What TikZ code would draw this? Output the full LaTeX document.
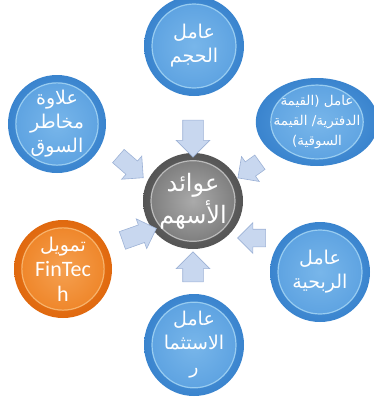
\documentclass[tikz,border=0pt]{standalone}
\usepackage{fontspec}
\usetikzlibrary{shapes.geometric,shapes.arrows}
\TeXXeTstate=1
\newfontfamily\arabicfont[Script=Arabic]{DejaVu Sans}
\newfontfamily\latinfont{Carlito}
\definecolor{blueout}{HTML}{3A84CE}
\definecolor{bluemid}{HTML}{5AA0E0}
\definecolor{bluein}{HTML}{78B6EA}
\definecolor{bluering}{HTML}{B0DEF8}
\definecolor{grayout}{HTML}{555555}
\definecolor{graymid}{HTML}{777777}
\definecolor{grayin}{HTML}{AAAAAA}
\definecolor{grayring}{HTML}{D5D5D5}
\definecolor{orangeout}{HTML}{E0690F}
\definecolor{orangemid}{HTML}{EE8224}
\definecolor{orangein}{HTML}{F5A050}
\definecolor{orangering}{HTML}{FBC585}
\definecolor{arrowfill}{HTML}{C8D7EF}
\definecolor{arrowline}{HTML}{9DB2D6}
\begin{document}
\begin{tikzpicture}[x=1pt,y=-1pt,
  bubble/.style n args={3}{ellipse, minimum width=#1, minimum height=#2,
    inner sep=0pt, outer sep=0pt, text=white, align=center,
    inner color=#3mid, outer color=#3out,
    path picture={
      \shade[inner color=#3in, outer color=#3mid]
        (path picture bounding box.center) ellipse [x radius=0.42*#1, y radius=0.42*#2];
      \draw[#3ring, line width=1.2pt, opacity=0.75]
        (path picture bounding box.center) ellipse [x radius=0.42*#1, y radius=0.42*#2];
    }},
  blockarrow/.style n args={2}{single arrow, draw=arrowline, fill=arrowfill,
    line width=0.6pt, inner sep=0pt, outer sep=0pt,
    text height=#2, text depth=0pt, text width=0pt,
    single arrow head extend=6.5pt, single arrow head indent=0pt,
    minimum height=#1},
  ar/.style={font=\arabicfont\fontsize{19}{24}\selectfont},
]
\useasboundingbox (0,0) rectangle (374,400);

\node[bubble={100pt}{100pt}{blue}, ar] (t) at (194,46)
  {\beginR عامل\endR\\\beginR الحجم\endR};
\node[bubble={110pt}{88pt}{blue}, font=\arabicfont\fontsize{13.5}{20}\selectfont] (tr) at (317,122)
  {\beginR عامل (القيمة\endR\\\beginR الدفترية/ القيمة\endR\\\beginR السوقية)\endR};
\node[bubble={98pt}{98pt}{blue}, ar] (tl) at (57,124)
  {\beginR علاوة\endR\\\beginR مخاطر\endR\\\beginR السوق\endR};
\node[bubble={98pt}{98pt}{orange}, font=\fontsize{19}{25}\selectfont] (bl) at (63,269)
  {{\arabicfont\beginR تمويل\endR}\\{\latinfont\fontsize{22}{25}\selectfont FinTec}\\{\latinfont\fontsize{22}{25}\selectfont h}};
\node[bubble={100pt}{100pt}{blue}, ar] (br) at (320,272)
  {\beginR عامل\endR\\\beginR الربحية\endR};
\node[bubble={100pt}{102pt}{blue}, ar] (b) at (194,345)
  {\beginR عامل\endR\\\beginR الاستثما\endR\\\beginR ر\endR};
\node[bubble={100pt}{96pt}{gray}, font=\arabicfont\fontsize{24}{32}\selectfont] (c) at (193,201)
  {\beginR عوائد\endR\\\beginR الأسهم\endR};

\node[blockarrow={37pt}{20pt}, rotate=-90] (a1) at (193,133.5) {};
\node[blockarrow={33pt}{17pt}, rotate=-41] (a2) at (127.5,164) {};
\node[blockarrow={27pt}{17pt}, rotate=-144.5] (a3) at (252.5,167.5) {};
\node[blockarrow={36pt}{18pt}, rotate=19.4] (a4) at (135,236) {};
\node[blockarrow={28pt}{17pt}, rotate=180] (a5) at (256,238) {};
\node[blockarrow={30pt}{20pt}, rotate=90] (a6) at (193,272) {};
\end{tikzpicture}
\end{document}
